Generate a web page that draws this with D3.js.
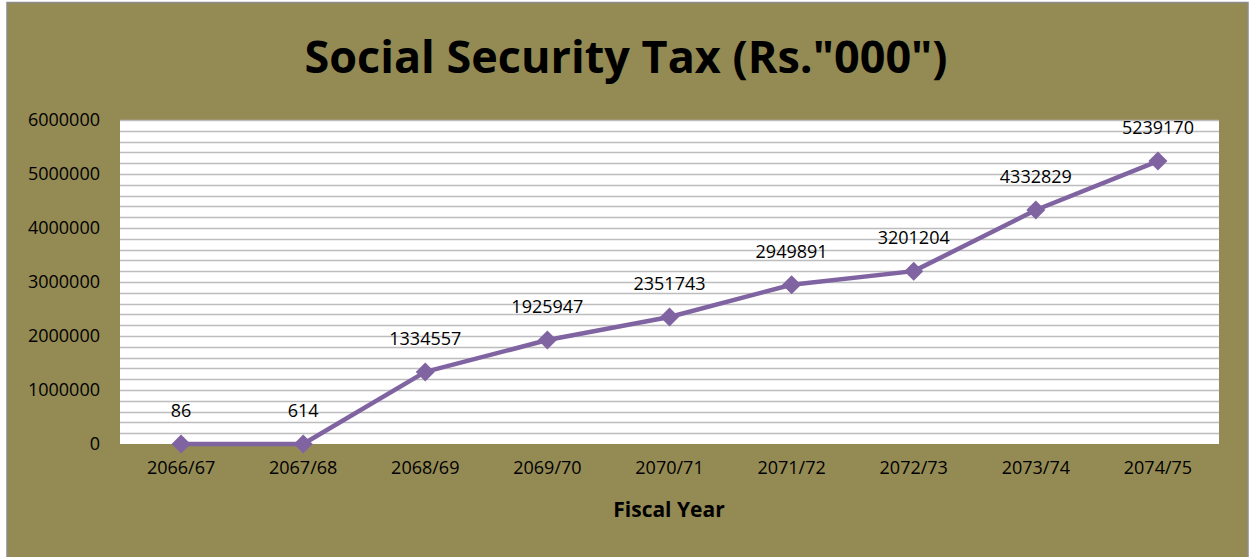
<!DOCTYPE html>
<html><head><meta charset="utf-8">
<script src="https://cdn.jsdelivr.net/npm/d3@7"></script>
<style>html,body{margin:0;padding:0;background:#fff;}svg{display:block;}</style>
</head><body>
<svg id="chart" width="1250" height="557"></svg>
<script>
const categories = ["2066/67","2067/68","2068/69","2069/70","2070/71","2071/72","2072/73","2073/74","2074/75"];
const values = [86, 614, 1334557, 1925947, 2351743, 2949891, 3201204, 4332829, 5239170];
const yTicks = [0, 1000000, 2000000, 3000000, 4000000, 5000000, 6000000];
const title = 'Social Security Tax (Rs."000")';
const xTitle = "Fiscal Year";

const W = 1250, H = 557;
const font = "'Open Sans', 'Liberation Sans', sans-serif";
const svg = d3.select("#chart");
svg.append("rect").attr("x",0).attr("y",0).attr("width",W).attr("height",H).attr("fill","#ffffff");
svg.append("rect").attr("x",7).attr("y",2.5).attr("width",1241).attr("height",H+10)
  .attr("fill","#948A54").attr("stroke","#8c8c8c").attr("stroke-width",1.5);

const m = {left:120, right:1219, top:120, bottom:444};
const x = d3.scaleBand().domain(categories).range([m.left, m.right]);
const y = d3.scaleLinear().domain([0, 6000000]).range([m.bottom, m.top]);

svg.append("rect").attr("x",m.left).attr("y",m.top).attr("width",m.right-m.left).attr("height",m.bottom-m.top).attr("fill","#ffffff");

// minor/major gridlines every 200000
const grid = d3.range(200000, 6000001, 200000);
svg.append("g").selectAll("line").data(grid).join("line")
  .attr("x1",m.left).attr("x2",m.right)
  .attr("y1",d=>Math.round(y(d))+0.5).attr("y2",d=>Math.round(y(d))+0.5)
  .attr("stroke","#bdbdbd").attr("stroke-width",1.6);

// y axis labels
const yAxis = d3.axisLeft(y).tickValues(yTicks).tickFormat(d3.format("d")).tickSize(0).tickPadding(20);
const gy = svg.append("g").attr("transform",`translate(${m.left},0)`).call(yAxis);
gy.select(".domain").remove();
gy.selectAll("text").attr("font-family",font).attr("font-size","18px").attr("fill","#000");

// x axis labels
const xAxis = d3.axisBottom(x).tickSize(0).tickPadding(17);
const gx = svg.append("g").attr("transform",`translate(0,${m.bottom})`).call(xAxis);
gx.select(".domain").remove();
gx.selectAll("text").attr("font-family",font).attr("font-size","18px").attr("fill","#000");

// line
const cx = d => x(d) + x.bandwidth()/2;
const line = d3.line().x((d,i)=>cx(categories[i])).y(d=>y(d));
svg.append("path").datum(values).attr("d",line).attr("fill","none")
  .attr("stroke","#8064A2").attr("stroke-width",4.5).attr("stroke-linejoin","round");

// markers
svg.append("g").selectAll("path").data(values).join("path")
  .attr("transform",(d,i)=>`translate(${cx(categories[i])},${y(d)})`)
  .attr("d","M0,-9.5L9.5,0L0,9.5L-9.5,0Z").attr("fill","#8064A2");

// data labels
svg.append("g").selectAll("text").data(values).join("text")
  .attr("x",(d,i)=>cx(categories[i])).attr("y",d=>y(d)-27)
  .attr("text-anchor","middle").attr("font-family",font).attr("font-size","18px").attr("fill","#000")
  .text(d=>d);

// titles
svg.append("text").attr("x",626).attr("y",73).attr("text-anchor","middle")
  .attr("font-family",font).attr("font-weight","bold").attr("font-size","45px").attr("fill","#000").text(title);
svg.append("text").attr("x",669).attr("y",517).attr("text-anchor","middle")
  .attr("font-family",font).attr("font-weight","bold").attr("font-size","21px").attr("fill","#000").text(xTitle);
</script>
</body></html>
